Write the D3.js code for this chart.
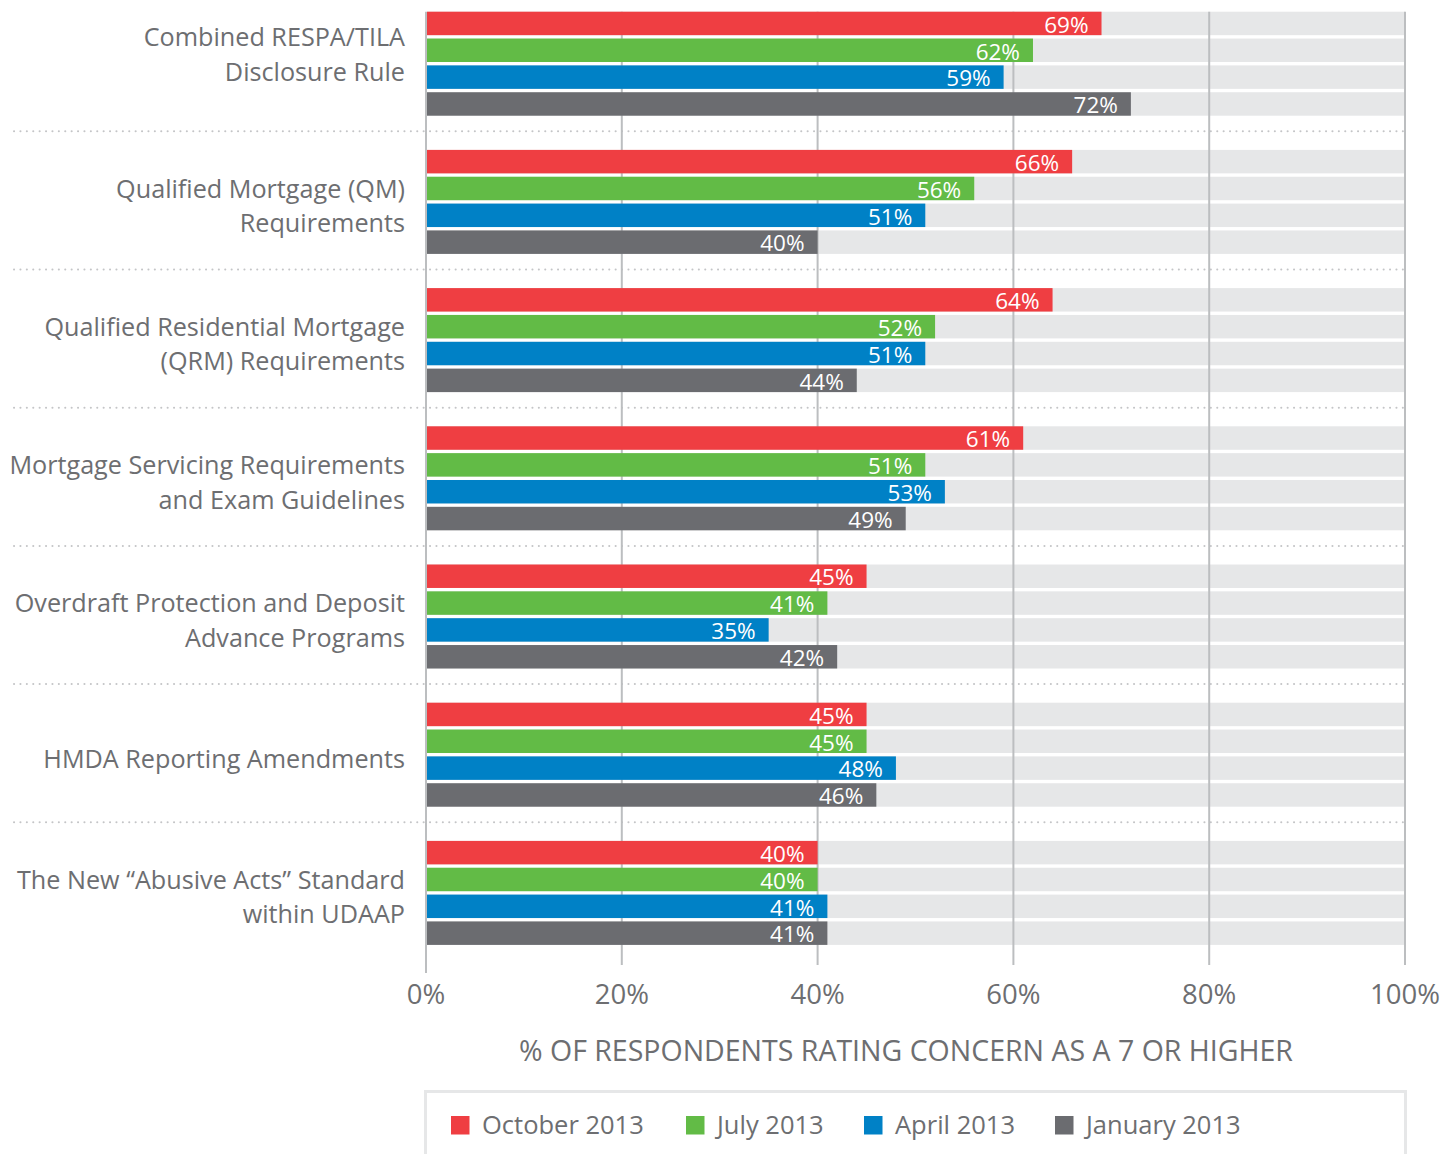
<!DOCTYPE html>
<html><head><meta charset="utf-8">
<script src="https://cdnjs.cloudflare.com/ajax/libs/d3/7.8.5/d3.min.js"></script>
<style>
html,body{margin:0;padding:0;background:#fff;}
svg{display:block;font-family:"Open Sans","Noto Sans",sans-serif;}
</style></head><body>
<svg id="chart" width="1447" height="1154"></svg>
<script>
const categories = [
  ["Combined RESPA/TILA","Disclosure Rule"],
  ["Qualified Mortgage (QM)","Requirements"],
  ["Qualified Residential Mortgage","(QRM) Requirements"],
  ["Mortgage Servicing Requirements","and Exam Guidelines"],
  ["Overdraft Protection and Deposit","Advance Programs"],
  ["HMDA Reporting Amendments"],
  ["The New \u201cAbusive Acts\u201d Standard","within UDAAP"]
];
const seriesNames = ["October 2013","July 2013","April 2013","January 2013"];
const seriesColors = ["#ef3e42","#62bb46","#0081c6","#6b6c70"];
const october2013 = [69,66,64,61,45,45,40];
const july2013    = [62,56,52,51,41,45,40];
const april2013   = [59,51,51,53,35,48,41];
const january2013 = [72,40,44,49,42,46,41];
const seriesValues = [october2013, july2013, april2013, january2013];
const xTicks = [0,20,40,60,80,100];
const xTitle = "% OF RESPONDENTS RATING CONCERN AS A 7 OR HIGHER";

const svg = d3.select("#chart");
const textColor = "#6d6e71";
const x = d3.scaleLinear().domain([0,100]).range([426,1405]);
const catIdx = categories.map((d,i)=>i);
const y0 = d3.scaleBand().domain(catIdx).range([11.7,944.9]).paddingInner(0.2475).paddingOuter(0);
const y1 = d3.scaleBand().domain(d3.range(seriesNames.length)).range([0,y0.bandwidth()]).paddingInner(0.126);

// dotted separators
for (let i=1;i<categories.length;i++){
  const yy = (y0(i-1)+y0.bandwidth()+y0(i))/2 - 1.5;
  svg.append("line").attr("x1",14).attr("x2",1405).attr("y1",yy).attr("y2",yy)
    .attr("stroke","#c4c5c7").attr("stroke-width",2).attr("stroke-linecap","round")
    .attr("stroke-dasharray","0.1,6.3");
}

// background bars
const groups = svg.append("g");
catIdx.forEach(ci=>{
  seriesNames.forEach((s,si)=>{
    groups.append("rect").attr("x",x(0)+1).attr("width",x(100)-x(0)-1)
      .attr("y",y0(ci)+y1(si)).attr("height",y1.bandwidth()).attr("fill","#e6e7e8");
  });
});

// gridlines
xTicks.forEach(t=>{
  svg.append("line").attr("x1",x(t)).attr("x2",x(t))
    .attr("y1",y0(0)).attr("y2", t===0 ? 973 : 965)
    .attr("stroke","#bcbec0").attr("stroke-width",2);
});

// bars and labels
catIdx.forEach(ci=>{
  seriesNames.forEach((s,si)=>{
    const v = seriesValues[si][ci];
    const by = y0(ci)+y1(si);
    svg.append("rect").attr("x",x(0)+1).attr("width",x(v)-x(0)-1)
      .attr("y",by).attr("height",y1.bandwidth()).attr("fill",seriesColors[si]);
    svg.append("text").attr("x",x(v)-13).attr("y",by+y1.bandwidth()-2.5)
      .attr("text-anchor","end").attr("fill","#fff").attr("font-size",22.5)
      .text(v+"%");
  });
});

// category labels
catIdx.forEach(ci=>{
  const lines = categories[ci];
  const lh = 34.5;
  let cy = y0(ci)+y0.bandwidth()/2 + 4 + (ci===0 ? -13 : 0);
  const t = svg.append("text").attr("text-anchor","end").attr("fill",textColor).attr("font-size",25.2);
  lines.forEach((ln,li)=>{
    t.append("tspan").attr("x",405).attr("y", cy + (li-(lines.length-1)/2)*lh + 9).text(ln);
  });
});

// x tick labels
xTicks.forEach(t=>{
  svg.append("text").attr("x",x(t)).attr("y",1004).attr("text-anchor","middle")
    .attr("fill",textColor).attr("font-size",27.5).text(t+"%");
});
svg.append("text").attr("x",906).attr("y",1061).attr("text-anchor","middle")
  .attr("fill",textColor).attr("font-size",28.5).text(xTitle);

// legend
svg.append("rect").attr("x",425.5).attr("y",1091.5).attr("width",980).attr("height",80)
  .attr("fill","none").attr("stroke","#e6e7e8").attr("stroke-width",3);
const legendX = [451,686,864,1055];
seriesNames.forEach((s,si)=>{
  svg.append("rect").attr("x",legendX[si]).attr("y",1116).attr("width",18.5).attr("height",18.5)
    .attr("fill",seriesColors[si]);
  svg.append("text").attr("x",legendX[si]+31).attr("y",1134).attr("fill",textColor)
    .attr("font-size",25.5).text(s);
});
</script>
</body></html>
